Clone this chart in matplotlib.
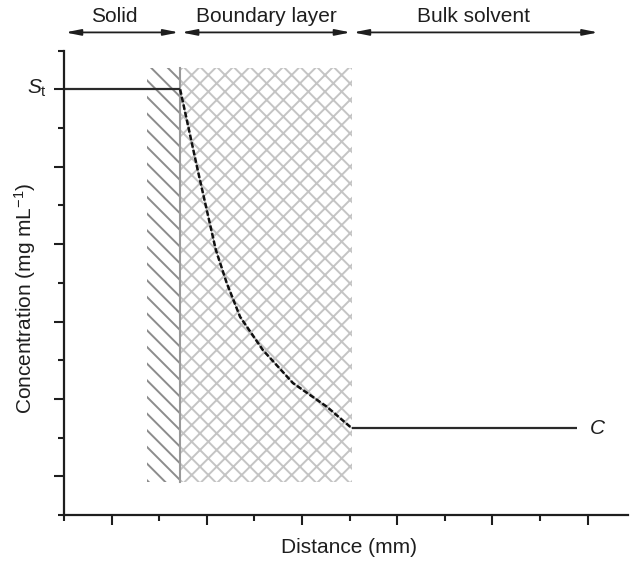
import numpy as np
import matplotlib
matplotlib.use("Agg")
import matplotlib.pyplot as plt
from matplotlib.patches import Rectangle, ArrowStyle
from matplotlib.ticker import FixedLocator

plt.rcParams['font.family'] = ['Liberation Sans', 'DejaVu Sans']
plt.rcParams['mathtext.fontset'] = 'custom'
plt.rcParams['mathtext.rm'] = 'Liberation Sans'
plt.rcParams['mathtext.it'] = 'Liberation Sans:italic'
plt.rcParams['hatch.linewidth'] = 1.4

# concentration profile through the boundary layer
dist = [2.44, 2.81, 3.19, 3.42, 3.70, 4.18, 4.81, 5.52, 6.05]
conc = [11.0, 8.91, 6.85, 5.99, 5.12, 4.26, 3.41, 2.80, 2.24]
s_t = 11.0          # saturation solubility
c_bulk = 2.24       # bulk concentration
bulk_end = 10.77

# zones along the distance axis
zone_names = ['Solid', 'Boundary layer', 'Bulk solvent']
zone_edges = [0.0, 2.44, 6.05, 11.25]
zone_label_x = [1.06, 4.26, 8.61]
solid_start = 1.75
band_lo, band_hi = 0.86, 11.54

ink = '#1e1e1e'

fig = plt.figure(figsize=(6.3, 5.61), dpi=100)
ax = fig.add_axes([64/630, 46/561, 564/630, 464.4/561])
ax.set_xlim(0, 11.85)
ax.set_ylim(0, 12)

# hatched solid and boundary layer
ax.add_patch(Rectangle((solid_start, band_lo), zone_edges[1] - solid_start, band_hi - band_lo,
                       facecolor='none', edgecolor='#8c8c8c', hatch='\\\\', lw=0))
ax.add_patch(Rectangle((zone_edges[1], band_lo), zone_edges[2] - zone_edges[1], band_hi - band_lo,
                       facecolor='none', edgecolor='#c4c4c4', hatch='xx', lw=0))
ax.plot([zone_edges[1], zone_edges[1]], [band_lo, band_hi], color='#9a9a9a', lw=1.5)

# St level, profile and bulk level
ax.plot([0, dist[0]], [s_t, s_t], color='#2a2a2a', lw=1.6, solid_capstyle='butt')
ax.plot(dist, conc, color='#9a9a9a', lw=0.8)
ax.plot(dist, conc, color='#111111', lw=1.8, dashes=(2.2, 0.9))
ax.plot([dist[-1], bulk_end], [c_bulk, c_bulk], color='#2a2a2a', lw=1.6, solid_capstyle='butt')

ax.text(-0.36, s_t + 0.02, r'$S_\mathrm{t}$', fontsize=15, ha='right', va='center', color=ink)
ax.text(11.2, c_bulk, 'C', fontsize=15, style='italic', ha='center', va='center', color=ink)

# zone arrows above the plot
arrow = ArrowStyle('<|-|>', head_length=0.9, head_width=0.18)
for name, lx, a, b in zip(zone_names, zone_label_x, zone_edges[:-1], zone_edges[1:]):
    ax.annotate('', xy=(b, 12.47), xytext=(a, 12.47), xycoords='data',
                arrowprops=dict(arrowstyle=arrow, color=ink, lw=1.3,
                                shrinkA=0.9, shrinkB=0.9, mutation_scale=10),
                annotation_clip=False)
    ax.text(lx, 12.75, name, fontsize=15, ha='center', va='baseline', color=ink, clip_on=False)

# axes styling
for side in ['top', 'right']:
    ax.spines[side].set_visible(False)
for side in ['left', 'bottom']:
    ax.spines[side].set_linewidth(1.6)
    ax.spines[side].set_color(ink)

ax.xaxis.set_major_locator(FixedLocator([1, 3, 5, 7, 9, 11]))
ax.xaxis.set_minor_locator(FixedLocator([0, 2, 4, 6, 8, 10]))
ax.yaxis.set_major_locator(FixedLocator([1, 3, 5, 7, 9, 11]))
ax.yaxis.set_minor_locator(FixedLocator([0, 2, 4, 6, 8, 10, 12]))
ax.tick_params(which='major', direction='out', length=7.5, width=1.5, color=ink,
               labelbottom=False, labelleft=False)
ax.tick_params(which='minor', direction='out', length=4, width=1.5, color=ink)
for t in ax.xaxis.get_minor_ticks() + ax.yaxis.get_minor_ticks():
    t.tick1line.set_clip_on(False)

fig.text(349/630, 1 - 553/561, 'Distance (mm)', fontsize=15, ha='center', va='baseline', color=ink)
fig.text(32/630, 1 - 298/561, r'Concentration (mg mL$^{-1}$)', fontsize=15, rotation=90,
         ha='center', va='baseline', rotation_mode='anchor', color=ink)

fig.savefig('out.png', dpi=100)
